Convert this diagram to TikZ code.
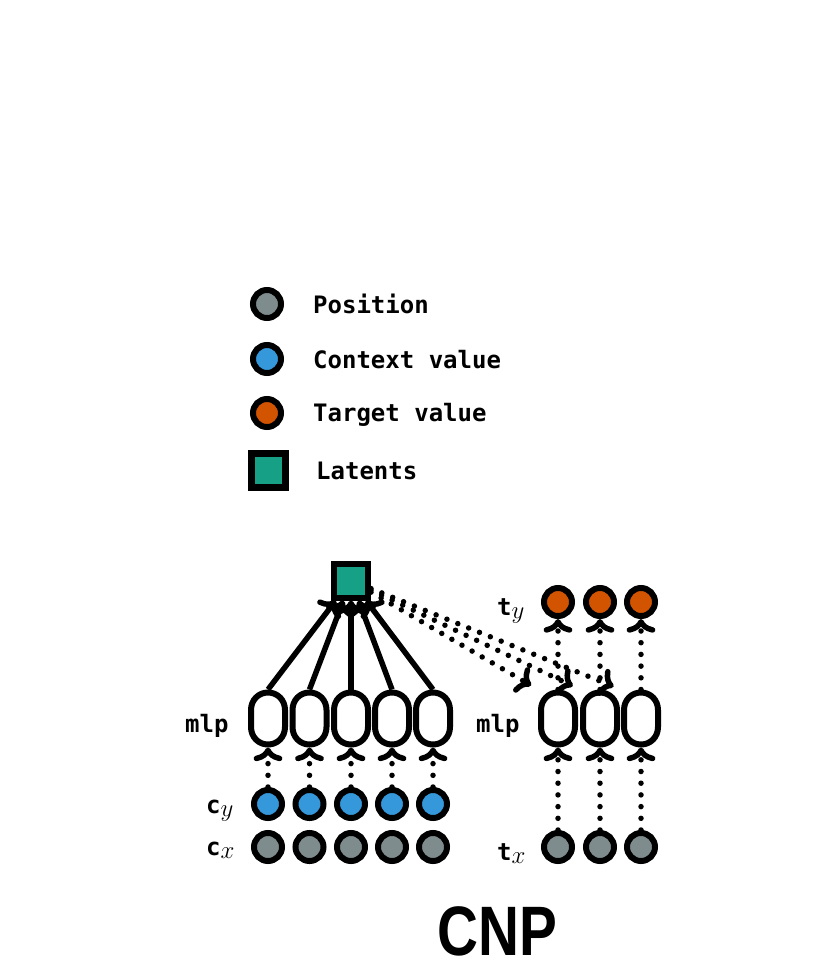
\documentclass[tikz,border=0pt]{standalone}
\usepackage{fontspec}
\setmonofont{DejaVu Sans Mono}
\setsansfont{Liberation Sans}
\usetikzlibrary{arrows.meta}
\definecolor{posc}{HTML}{7F8C8D}
\definecolor{ctxc}{HTML}{3498DB}
\definecolor{tgtc}{HTML}{D35400}
\definecolor{latc}{HTML}{16A085}
\tikzset{
  circ/.style={circle, draw, line width=6pt, minimum size=28pt, inner sep=0pt},
  ovalbox/.style={rectangle, minimum width=34pt, minimum height=52pt, inner sep=0pt, outer sep=3pt},
  ovalline/.style={line width=6pt},
  latbox/.style={rectangle, draw, line width=6pt, minimum size=34pt, inner sep=0pt, fill=latc},
  lbl/.style={inner sep=0pt, font=\fontsize{24}{28}\selectfont\ttfamily\bfseries},
  arr/.style={line width=5.5pt, -{Computer Modern Rightarrow}},
  dotarr/.style={arr, line cap=round, dash pattern=on 0pt off 11.7pt},
}
\newcommand{\ovalat}[1]{%
  \draw[ovalline] (#1,692.5) .. controls (#1+9.5,692.5) and (#1+17,700) .. (#1+17,710)
    -- (#1+17,727) .. controls (#1+17,737) and (#1+9.5,744.5) .. (#1,744.5)
    .. controls (#1-9.5,744.5) and (#1-17,737) .. (#1-17,727)
    -- (#1-17,710) .. controls (#1-17,700) and (#1-9.5,692.5) .. cycle;}
\begin{document}
\begin{tikzpicture}[x=1pt, y=-1pt]
\useasboundingbox[fill=white] (0,0) rectangle (831,969);
% legend
\node[circ, fill=posc] (lp) at (267,304) {};
\node[circ, fill=ctxc] (lc) at (267,359) {};
\node[circ, fill=tgtc] (lt) at (267,413) {};
\node[latbox, line width=7pt] (ll) at (268,470) {};
\node[lbl, anchor=base west] (tp) at (313,313) {Position};
\node[lbl, anchor=base west] (tc) at (313,368) {Context value};
\node[lbl, anchor=base west] (tt) at (313,421) {Target value};
\node[lbl, anchor=base west] (tl) at (316,479) {Latents};
% latent
\node[latbox] (lat) at (351,580.5) {};
% left side
\foreach \i/\x in {1/268,2/309.5,3/351,4/392,5/433}{
  \node[ovalbox] (mL\i) at (\x,718.5) {};
  \ovalat{\x}
  \node[circ, fill=ctxc] (cy\i) at (\x,804) {};
  \node[circ, fill=posc] (cx\i) at (\x,847) {};
}
% right side
\foreach \i/\x in {1/558,2/600,3/641}{
  \node[ovalbox] (mR\i) at (\x,718.5) {};
  \ovalat{\x}
  \node[circ, fill=tgtc] (ty\i) at (\x,602) {};
  \node[circ, fill=posc] (tx\i) at (\x,847) {};
}
% labels
\node[lbl, anchor=base west] (mlpL) at (185,732) {mlp};
\node[lbl, anchor=base west] (mlpR) at (476,732) {mlp};
\node[lbl, anchor=base west] (cyl) at (206,813) {c$_{\textstyle y}$};
\node[lbl, anchor=base west] (cxl) at (206,855) {c$_{\textstyle x}$};
\node[lbl, anchor=base west] (tyl) at (497,615) {t$_{\textstyle y}$};
\node[lbl, anchor=base west] (txl) at (497,860) {t$_{\textstyle x}$};
\node[inner sep=0pt, anchor=base, font=\fontsize{70}{80}\selectfont\sffamily\bfseries] (title) at (497,955) {\scalebox{0.81}[1]{CNP}};
% connectors
\foreach \i in {1,...,5}{
  \draw[dotarr] (cy\i) -- (mL\i);
  \draw[arr] (mL\i.north) -- (lat);
}
\foreach \i in {1,2,3}{
  \draw[dotarr] (tx\i) -- (mR\i);
  \draw[dotarr] (mR\i) -- (ty\i);
  \draw[dotarr, shorten >=8pt] (lat) -- (mR\i.north west);
}
\end{tikzpicture}
\end{document}
